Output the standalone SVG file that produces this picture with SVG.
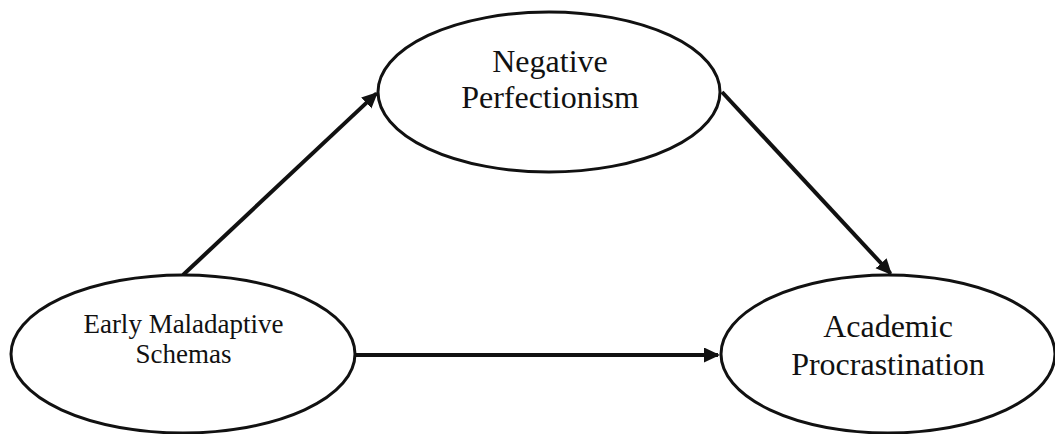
<svg xmlns="http://www.w3.org/2000/svg" width="1055" height="434" viewBox="0 0 1055 434">
<style>
.node{fill:#fff;stroke:#111;stroke-width:3}
.lbl{font-family:"Liberation Serif","Times New Roman",serif;fill:#111;text-anchor:middle}
.edge{stroke:#111;stroke-width:4;fill:none}
</style>
<defs>
<marker id="ah" markerUnits="userSpaceOnUse" markerWidth="18" markerHeight="16" refX="14" refY="7.5" orient="auto">
<path d="M0,0 L16,7.5 L0,15 z" fill="#111"/>
</marker>
</defs>
<rect width="1055" height="434" fill="#fff"/>
<g id="connectors">
<line class="edge" x1="183" y1="275" x2="376.5" y2="93.4" marker-end="url(#ah)"/>
<line class="edge" x1="722" y1="92" x2="890.6" y2="273.5" marker-end="url(#ah)"/>
<line class="edge" x1="355" y1="355" x2="718" y2="355" marker-end="url(#ah)"/>
</g>
<g id="negative-perfectionism">
<ellipse class="node" cx="549" cy="92" rx="171" ry="80"/>
<text class="lbl" x="550" y="72" font-size="32">Negative</text>
<text class="lbl" x="550" y="108" font-size="32">Perfectionism</text>
</g>
<g id="early-maladaptive-schemas">
<ellipse class="node" cx="183" cy="354" rx="172" ry="79"/>
<text class="lbl" x="183.5" y="333" font-size="27">Early Maladaptive</text>
<text class="lbl" x="183.5" y="363" font-size="27">Schemas</text>
</g>
<g id="academic-procrastination">
<ellipse class="node" cx="888" cy="354" rx="167" ry="79"/>
<text class="lbl" x="888" y="337" font-size="32">Academic</text>
<text class="lbl" x="888" y="375" font-size="32">Procrastination</text>
</g>
</svg>
